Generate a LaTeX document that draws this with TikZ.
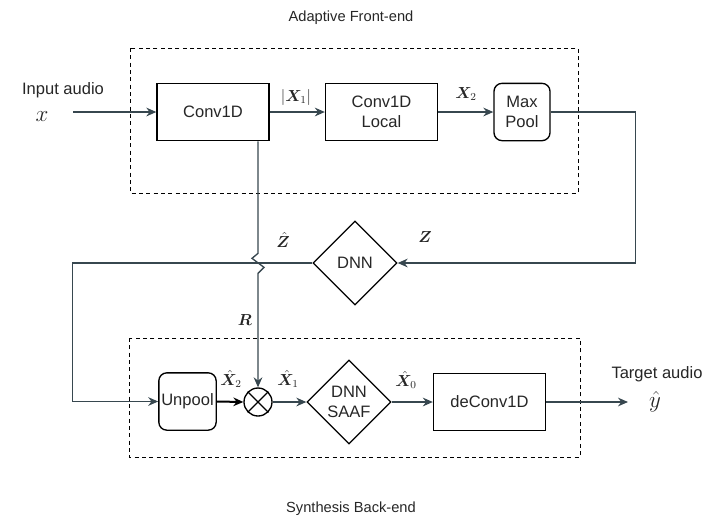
\documentclass[tikz,border=0pt]{standalone}
\usepackage{fontspec}
\setmainfont{Liberation Sans}
\usepackage{amsmath}
\usepackage{bm}
\usetikzlibrary{arrows.meta,shapes.geometric}
\definecolor{wirec}{HTML}{37474F}
\definecolor{txtc}{HTML}{262626}
\newcommand{\mlbl}[1]{\fontsize{12}{14}\selectfont$#1$}
\begin{document}
\begin{tikzpicture}[x=0.75pt, y=-0.75pt, >={Stealth[length=7.5pt,width=6.5pt]},
  font=\fontsize{12.4}{15}\selectfont, text=txtc,
  blk/.style={draw=black, line width=1pt, minimum width=84pt, minimum height=43pt, align=center},
  rblk/.style={blk, rounded corners=6pt, minimum width=42pt, inner sep=1pt},
  dnnbox/.style={diamond, draw=black, line width=1pt, minimum width=63pt, minimum height=63pt, inner sep=0pt, align=center},
  wire/.style={draw=wirec, line width=1pt},
  frame/.style={draw=black, line width=0.7pt, dash pattern=on 3pt off 2.5pt},
  title/.style={font=\fontsize{11}{13}\selectfont},
  mathlbl/.style={inner sep=0.5pt}]
\useasboundingbox (0,0) rectangle (706,529);
% Adaptive Front-end
\draw[frame] (130,48) rectangle (578,193);
\node[title] (fetitle) at (351,18) {Adaptive Front-end};
\node (inlbl) at (63,90) {Input audio};
\node (xin) at (42,117) {\fontsize{17}{19}\selectfont$x$};
\coordinate (xstart) at (73,112);
\node[blk] (conv) at (213,112) {Conv1D};
\node[blk] (local) at (381.5,112) {Conv1D\\Local};
\node[rblk] (pool) at (522,112) {Max\\Pool};
\draw[wire,->] (xstart) -- (conv.west);
\draw[wire,->] (conv.east) -- (local.west);
\draw[wire,->] (local.east) -- (pool.west);
\node[mathlbl] (xone) at (296,97) {\mlbl{|\bm{X}_1|}};
\node[mathlbl] (xtwo) at (466,94) {\mlbl{\bm{X}_2}};
% DNN
\node[dnnbox] (dnn) at (355,263) {DNN};
\node[mathlbl] (zlbl) at (425,237) {\mlbl{\bm{Z}}};
\node[mathlbl] (zhat) at (283,240) {\mlbl{\hat{\bm{Z}}}};
\draw[wire,->] (pool.east) -- ++(85,0) |- (dnn.east);
% Synthesis Back-end
\draw[frame] (129,338) rectangle (580,457);
\node[title] (betitle) at (351,509) {Synthesis Back-end};
\node[rblk, minimum width=43pt] (unpool) at (187.5,401.5) {Unpool};
\node[circle, draw=black, line width=1pt, minimum size=21pt, inner sep=0pt] (mult) at (258,402) {};
\draw[line width=1pt] (mult.north west) -- (mult.south east) (mult.north east) -- (mult.south west);
\node[dnnbox] (saaf) at (349,402) {DNN\\SAAF};
\node[blk] (deconv) at (489.5,402) {deConv1D};
\coordinate (yend) at (628,402);
\draw[wire,->] (dnn.west) -- ++(-240,0) |- (unpool.west);
\draw[wire,->] (mult |- conv.south) -- ++(0,112) -- ++(-6,5) -- ++(12,9) -- ++(-6,6) -- (mult.north);
\draw[->, line width=1.5pt, black] (unpool.east) -- (mult.west);
\draw[wire,->] (mult.east) -- (saaf.west);
\draw[wire,->] (saaf.east) -- (deconv.west);
\draw[wire,->] (deconv.east) -- (yend);
\node[mathlbl] (rlbl) at (245,320) {\mlbl{\bm{R}}};
\node[mathlbl] (xhtwo) at (231,379) {\mlbl{\hat{\bm{X}}_2}};
\node[mathlbl] (xhone) at (288,379) {\mlbl{\hat{\bm{X}}_1}};
\node[mathlbl] (xhzero) at (406,380) {\mlbl{\hat{\bm{X}}_0}};
\node (outlbl) at (657,374) {Target audio};
\node (yhat) at (655,402) {\fontsize{17}{19}\selectfont$\hat{y}$};
\end{tikzpicture}
\end{document}
